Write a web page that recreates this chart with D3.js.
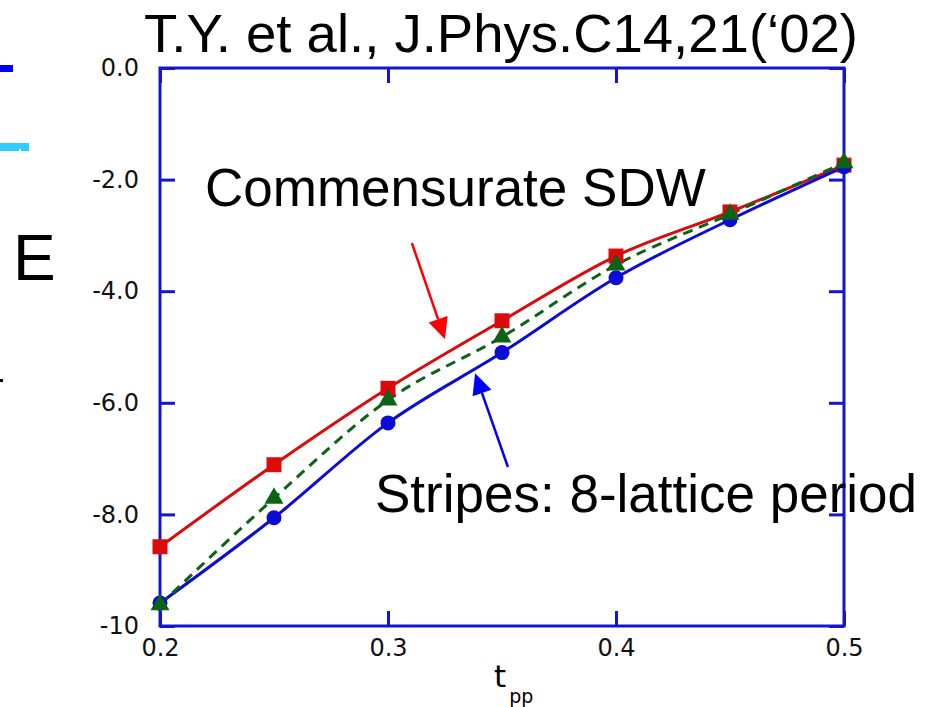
<!DOCTYPE html>
<html>
<head>
<meta charset="utf-8">
<script src="https://cdn.jsdelivr.net/npm/d3@7"></script>
<style>
  html, body { margin: 0; padding: 0; background: #fff; }
  svg { display: block; }
</style>
</head>
<body>
<svg id="chart" width="926" height="707"></svg>
<script>
// Hopping parameter t_pp
const tpp = [0.20, 0.25, 0.30, 0.35, 0.40, 0.45, 0.50];
// Energies of the commensurate SDW state
const sdwEnergy = [-8.58, -7.11, -5.74, -4.53, -3.37, -2.58, -1.74];
// Energies of the stripe state, 8-lattice period
const stripeEnergy = [-9.59, -8.06, -6.36, -5.10, -3.76, -2.72, -1.77];
// Intermediate (dashed) series
const midEnergy = [-9.62, -7.71, -5.95, -4.82, -3.53, -2.62, -1.70];

const xTicks = [0.2, 0.3, 0.4, 0.5];
const yTicks = [0, -2, -4, -6, -8, -10];
const yTickLabels = ["0.0", "-2.0", "-4.0", "-6.0", "-8.0", "-10"];

const BLUE = "#0c0cd6";
const RED = "#dc0a0a";
const GREEN = "#0b6416";
const AXIS = "#1414d2";

const svg = d3.select("#chart");
const plotL = 160, plotR = 844, plotT = 68, plotB = 626;

const x = d3.scaleLinear().domain([0.2, 0.5]).range([plotL, plotR]);
const y = d3.scaleLinear().domain([-10, 0]).range([plotB, plotT]);

// Stray decorations at the left edge
svg.append("rect").attr("x", 0).attr("y", 65).attr("width", 13).attr("height", 7).attr("fill", "#0000ff");
svg.append("rect").attr("x", 0).attr("y", 143).attr("width", 29).attr("height", 8).attr("fill", "#33ccff");
svg.append("rect").attr("x", 19).attr("y", 149).attr("width", 2).attr("height", 2).attr("fill", "#ffffff");
svg.append("rect").attr("x", 0).attr("y", 379).attr("width", 3).attr("height", 3).attr("fill", "#000");

// Title
svg.append("text")
  .attr("x", 144).attr("y", 52)
  .attr("font-family", "Liberation Sans, Arial, sans-serif")
  .attr("font-size", 54.5)
  .attr("fill", "#000")
  .text("T.Y. et al., J.Phys.C14,21(\u201802)");

// Axis label E
svg.append("text")
  .attr("x", 13).attr("y", 280)
  .attr("font-family", "Liberation Sans, Arial, sans-serif")
  .attr("font-size", 64)
  .attr("fill", "#000")
  .text("E");

// Axes
const fmtY = d => yTickLabels[yTicks.indexOf(d)];
const axisFont = "DejaVu Sans, Verdana, sans-serif";

function styleAxis(g, showLabels) {
  g.select(".domain").remove();
  g.selectAll(".tick line").attr("stroke", AXIS).attr("stroke-width", 3);
  g.selectAll(".tick text")
    .attr("font-family", axisFont)
    .attr("font-size", 24)
    .attr("fill", showLabels ? "#111" : "none");
}

svg.append("g")
  .attr("transform", `translate(${plotL},0)`)
  .call(d3.axisLeft(y).tickValues(yTicks).tickFormat(fmtY).tickSize(-15).tickPadding(21))
  .call(g => styleAxis(g, true));

svg.append("g")
  .attr("transform", `translate(${plotR},0)`)
  .call(d3.axisRight(y).tickValues(yTicks).tickFormat("").tickSize(-15))
  .call(g => styleAxis(g, false));

svg.append("g")
  .attr("transform", `translate(0,${plotB})`)
  .call(d3.axisBottom(x).tickValues(xTicks).tickFormat(d3.format(".1f")).tickSize(-15).tickPadding(13))
  .call(g => styleAxis(g, true));

svg.append("g")
  .attr("transform", `translate(0,${plotT})`)
  .call(d3.axisTop(x).tickValues(xTicks).tickFormat("").tickSize(-15))
  .call(g => styleAxis(g, false));

// Frame
svg.append("rect")
  .attr("x", plotL).attr("y", plotT)
  .attr("width", plotR - plotL).attr("height", plotB - plotT)
  .attr("fill", "none").attr("stroke", AXIS).attr("stroke-width", 3);

// x-axis label t_pp
const xl = svg.append("text")
  .attr("x", 494).attr("y", 687)
  .attr("font-family", axisFont)
  .attr("fill", "#000");
xl.append("tspan").attr("font-size", 31).text("t");
xl.append("tspan").attr("font-size", 19).attr("dx", 3).attr("dy", 16).text("pp");

// Curves
const line = d3.line()
  .x(d => x(d[0]))
  .y(d => y(d[1]))
  .curve(d3.curveMonotoneX);

const sdw = tpp.map((t, i) => [t, sdwEnergy[i]]);
const stripe = tpp.map((t, i) => [t, stripeEnergy[i]]);
const mid = tpp.map((t, i) => [t, midEnergy[i]]);

svg.append("path").datum(sdw).attr("d", line)
  .attr("fill", "none").attr("stroke", RED).attr("stroke-width", 3);
svg.append("path").datum(stripe).attr("d", line)
  .attr("fill", "none").attr("stroke", BLUE).attr("stroke-width", 3);
svg.append("path").datum(mid).attr("d", line)
  .attr("fill", "none").attr("stroke", GREEN).attr("stroke-width", 3)
  .attr("stroke-dasharray", "10,7");

// Markers
svg.append("g").selectAll("rect").data(sdw).join("rect")
  .attr("x", d => x(d[0]) - 7.5).attr("y", d => y(d[1]) - 7.5)
  .attr("width", 15).attr("height", 15).attr("fill", RED);

svg.append("g").selectAll("circle").data(stripe).join("circle")
  .attr("cx", d => x(d[0])).attr("cy", d => y(d[1])).attr("r", 7.5)
  .attr("fill", BLUE);

const tri = d3.symbol().type(d3.symbolTriangle).size(155);
svg.append("g").selectAll("path").data(mid).join("path")
  .attr("transform", d => `translate(${x(d[0])},${y(d[1])})`)
  .attr("d", tri).attr("fill", GREEN);

// Annotation arrows (tail -> tip, in data coordinates)
function arrow(tail, tip, color) {
  const x1 = x(tail[0]), y1 = y(tail[1]);
  const x2 = x(tip[0]), y2 = y(tip[1]);
  const ang = Math.atan2(y2 - y1, x2 - x1);
  const hl = 21, hw = 10;
  const bx = x2 - hl * Math.cos(ang), by = y2 - hl * Math.sin(ang);
  svg.append("line")
    .attr("x1", x1).attr("y1", y1).attr("x2", bx).attr("y2", by)
    .attr("stroke", color).attr("stroke-width", 2.5);
  const px = -Math.sin(ang), py = Math.cos(ang);
  svg.append("path")
    .attr("d", `M${x2},${y2}L${bx + hw * px},${by + hw * py}L${bx - hw * px},${by - hw * py}Z`)
    .attr("fill", color);
}
arrow([0.3105, -3.14], [0.325, -4.86], "#ff0000");
arrow([0.3526, -7.15], [0.3382, -5.47], "#0000ff");

// Annotation texts
svg.append("text")
  .attr("x", 205).attr("y", 206)
  .attr("font-family", "Liberation Sans, Arial, sans-serif")
  .attr("font-size", 53).attr("fill", "#000")
  .text("Commensurate SDW");

svg.append("text")
  .attr("x", 375).attr("y", 512)
  .attr("font-family", "Liberation Sans, Arial, sans-serif")
  .attr("font-size", 53).attr("fill", "#000")
  .text("Stripes: 8-lattice period");
</script>
</body>
</html>
